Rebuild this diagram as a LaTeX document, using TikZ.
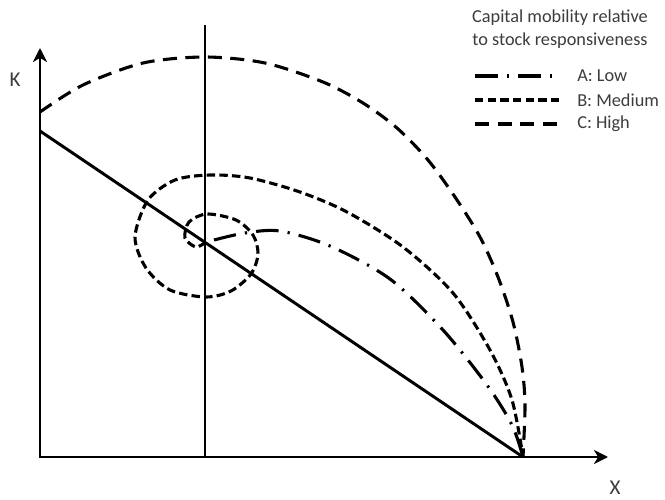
\documentclass[tikz,border=0pt]{standalone}
\usepackage{fontspec}
\setmainfont{Carlito}
\usetikzlibrary{arrows.meta,positioning,calc}
\definecolor{txtgray}{RGB}{60,60,60}
\tikzset{
  axarr/.style={{Stealth[length=10pt,width=10pt,inset=3pt]}-{Stealth[length=10pt,width=10pt,inset=3pt]}, line width=2.1pt},
  solidln/.style={line width=2.1pt},
  lowln/.style={line width=2.2pt, dash pattern=on 16pt off 6.5pt on 1.6pt off 6.5pt},
  medln/.style={line width=2.2pt, dash pattern=on 6pt off 3pt},
  highln/.style={line width=2.2pt, dash pattern=on 10pt off 6pt},
  legtxt/.style={font=\fontsize{13}{16.5}\selectfont, text=txtgray, inner sep=0pt},
  axtxt/.style={font=\fontsize{15}{18}\selectfont, text=txtgray, inner sep=0pt},
}
\begin{document}
\begin{tikzpicture}[x=0.025cm, y=-0.025cm]
  \useasboundingbox (0,0) rectangle (665,500);
  % axes and the two straight lines
  \coordinate (O) at (40,457);
  \coordinate (Ktip) at (40,48);
  \coordinate (Xtip) at (608,457);
  \coordinate (S) at (523,457);
  \coordinate (Kint) at (40,131);
  \coordinate (Vtop) at (205,25);
  \coordinate (Vbot) at (205,457);
  \draw[axarr] (Ktip) -- (O) -- (Xtip);
  \draw[solidln] (Vtop) -- (Vbot);
  \draw[solidln] (Kint) -- (S);
  \node[axtxt] (K) at (15,80) {K};
  \node[axtxt] (X) at (615,488) {X};
  % C: high
  \draw[highln] plot[smooth] coordinates {(40,112) (83,85) (143,63) (205,57) (265,63)
    (323,82) (363,103) (397,128) (428,160) (455,197) (480,237) (498,277) (513,322)
    (522,367) (525,405) (S)};
  % B: medium
  \draw[medln] plot[smooth] coordinates {(206,242) (196,247) (185,238) (189,222) (207,214)
    (236,220) (253,235) (258,254) (251,274) (231,291) (206,297) (170,290) (146,268)
    (135,237) (148,200) (175,180) (210,175) (250,178) (300,192) (347,212) (403,247)
    (453,293) (490,350) (512,400) (S)};
  % A: low
  \draw[lowln] plot[smooth] coordinates {(214,240) (245,233) (280,231) (330,246) (390,279)
    (443,330) (487,385) (512,425) (S)};
  % legend
  \node[legtxt, align=center] (title) at (560,29) {Capital mobility relative\\to stock responsiveness};
  \node[legtxt, anchor=west] (A) at (577,76) {A: Low};
  \node[legtxt, anchor=west] (B) at (577,100) {B: Medium};
  \node[legtxt, anchor=west] (C) at (577,124) {C: High};
  \coordinate (a0) at (475,76);  \coordinate (a1) at (560,76);
  \coordinate (b0) at (475,100); \coordinate (b1) at (560,100);
  \coordinate (c0) at (475,124); \coordinate (c1) at (560,124);
  \draw[lowln] (a0) -- (a1);
  \draw[medln] (b0) -- (b1);
  \draw[highln] (c0) -- (c1);
\end{tikzpicture}
\end{document}
